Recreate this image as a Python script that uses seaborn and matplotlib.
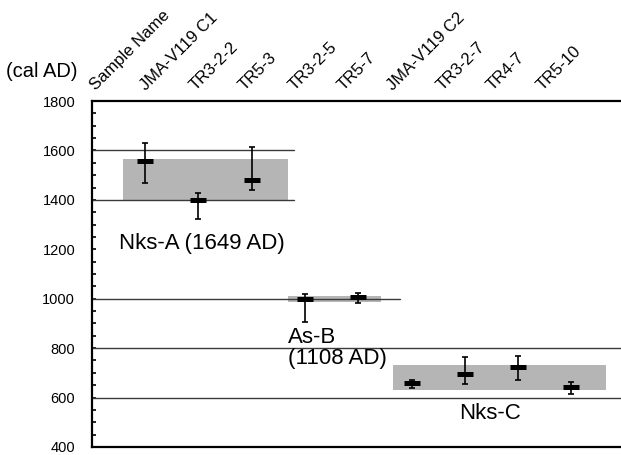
import matplotlib
matplotlib.use('Agg')
import matplotlib.pyplot as plt
import matplotlib.patches as mpatches
import seaborn as sns
import pandas as pd

# header row + samples (calibrated ages, cal AD)
header = 'Sample Name'
samples = ['JMA-V119 C1', 'TR3-2-2', 'TR5-3', 'TR3-2-5', 'TR5-7',
           'JMA-V119 C2', 'TR3-2-7', 'TR4-7', 'TR5-10']
ages = [1556, 1399, 1481, 998, 1006, 657, 697, 724, 641]
age_hi = [1631, 1429, 1615, 1020, 1025, 673, 765, 769, 663]
age_lo = [1468, 1321, 1441, 905, 983, 639, 655, 670, 616]

# tephra ranges: name, x-span (category units), age span
tephra_names = ['Nks-A (1649 AD)', 'As-B\n(1108 AD)', 'Nks-C']
tephra_x0 = [0.59, 3.68, 5.66]
tephra_x1 = [3.68, 5.42, 9.65]
tephra_lo = [1400, 988, 630]
tephra_hi = [1565, 1012, 730]

# reference lines: age, x-end (category units)
ref_ages = [1600, 1400, 1000, 800, 600]
ref_xend = [3.79, 3.79, 5.79, 10.0, 10.0]

df = pd.DataFrame({'pos': range(1, len(samples) + 1), 'sample': samples,
                   'age': ages, 'hi': age_hi, 'lo': age_lo})

sns.set_theme(style='white')
plt.rcParams['font.family'] = ['Liberation Sans', 'DejaVu Sans']
plt.rcParams['text.color'] = 'black'
plt.rcParams['xtick.labelcolor'] = 'black'
plt.rcParams['ytick.labelcolor'] = 'black'

fig = plt.figure(figsize=(6.21, 4.55), dpi=100)
ax = fig.add_axes([0.148, 0.0176, 0.852, 0.7604])

xmin, xmax = 0.0, 9.93
ax.set_xlim(xmin, xmax)
ax.set_ylim(400, 1800)

# grey boxes for tephra ages
for x0, x1, lo, hi in zip(tephra_x0, tephra_x1, tephra_lo, tephra_hi):
    ax.add_patch(mpatches.Rectangle((x0, lo), x1 - x0, hi - lo,
                                    facecolor='#b5b5b5', edgecolor='none', zorder=1))

for y, xe in zip(ref_ages, ref_xend):
    ax.plot([xmin, min(xe, xmax)], [y, y], color='#3a3a3a', lw=1.0, zorder=2)

# error bars + markers
ax.errorbar(df['pos'], df['age'],
            yerr=[df['age'] - df['lo'], df['hi'] - df['age']],
            fmt='none', ecolor='black', elinewidth=1.2, capsize=2.3,
            capthick=1.2, zorder=3)
sns.scatterplot(data=df, x='pos', y='age', marker='_', s=130,
                linewidth=3.6, color='black', ax=ax, zorder=4, legend=False)

# tephra labels
ax.text(2.07, 1225, tephra_names[0], ha='center', va='center', fontsize=16)
ax.text(3.68, 800, tephra_names[1], ha='left', va='center', fontsize=16,
        linespacing=1.0)
ax.text(7.48, 537, tephra_names[2], ha='center', va='center', fontsize=16)

# header row on top: its own spacing (a table row above the plot)
labels = [header] + samples
label_pos = [0.12 + 0.93 * i for i in range(len(labels))]
ax.xaxis.tick_top()
ax.set_xticks(label_pos)
ax.set_xticklabels(labels, rotation=45, ha='left',
                   rotation_mode='anchor', fontsize=12)
ax.tick_params(axis='x', length=0, pad=6)
ax.set_xlabel('')
ax.set_ylabel('')

ax.set_yticks(range(400, 1801, 50), minor=True)
ax.set_yticks(range(400, 1801, 200))
ax.tick_params(axis='y', which='both', direction='in', length=3, width=1.2,
               color='black', pad=12, labelsize=10.5, left=True)

for side in ['left', 'top', 'bottom']:
    ax.spines[side].set_visible(True)
    ax.spines[side].set_color('black')
    ax.spines[side].set_linewidth(1.6)
ax.spines['right'].set_visible(False)

fig.text(0.01, 0.842, '(cal AD)', fontsize=14.5, ha='left', va='center')

fig.savefig('out.png', dpi=100)
